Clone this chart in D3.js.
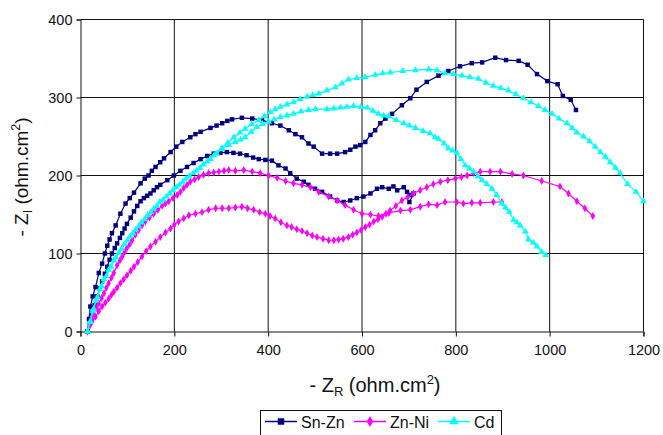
<!DOCTYPE html>
<html><head><meta charset="utf-8">
<script src="https://cdn.jsdelivr.net/npm/d3@7"></script>
<style>body{margin:0;background:#fff}svg{display:block;font-family:"Liberation Sans",Arial,sans-serif}</style>
</head><body><svg id="c" width="663" height="435"></svg>
<script>
const xTicks=[0,200,400,600,800,1000,1200];
const yTicks=[0,100,200,300,400];
const seriesNames=["Sn-Zn","Zn-Ni","Cd"];
const seriesColors=["#000080","#FF00FF","#00FFFF"];

const snZn1=[[15,0],[18,16],[21,32],[26,45],[32,57],[39,75],[46,87],[52,100],[57,110],[62,118],[67,126],[75,136],[85,151],[96,164],[105,171],[114,178],[128,190],[137,196],[145,200],[152,206],[160,211],[170,217],[178,222],[192,230],[204,237],[217,243],[234,249],[245,253],[256,256],[277,261],[290,264],[302,267],[313,270],[323,272],[344,274],[366,273],[387,271],[408,267],[426,264],[444,258],[458,253],[472,249],[486,241],[497,237],[515,228],[532,228],[547,228],[564,230],[575,233],[586,237],[596,239],[607,243],[618,252],[628,258],[639,267],[650,273],[664,279],[685,290],[703,299],[716,310],[738,320],[763,328],[784,334],[809,340],[834,344],[856,345],[884,351],[907,348],[934,347],[953,342],[973,330],[995,321],[1017,317],[1028,302],[1045,297],[1056,284]];
const snZn2=[[15,0],[20,12],[25,23],[30,34],[36,45],[41,55],[46,64],[52,74],[57,83],[62,92],[67,100],[73,107],[78,113],[84,120],[89,126],[94,132],[99,138],[107,146],[114,154],[121,161],[128,167],[135,171],[142,174],[149,177],[156,181],[163,185],[170,188],[185,194],[199,200],[213,206],[227,211],[241,216],[256,221],[270,225],[284,228],[298,229],[312,230],[326,229],[340,228],[354,226],[368,223],[380,221],[394,220],[408,219],[422,213],[437,209],[447,203],[461,196],[476,192],[486,188],[500,183],[515,179],[532,173],[547,168],[561,166],[575,168],[589,171],[603,173],[618,177],[632,183],[643,185],[657,183],[667,186],[675,181],[689,185],[696,179],[703,175],[710,177],[701,166]];
const znNi1=[[15,0],[20,9],[24,16],[28,23],[34,30],[39,36],[45,43],[50,49],[55,56],[60,62],[66,69],[71,75],[78,85],[84,91],[89,96],[94,102],[99,107],[105,112],[110,117],[117,124],[124,130],[131,136],[138,141],[147,146],[156,151],[165,156],[174,161],[181,164],[188,167],[197,171],[206,175],[213,179],[220,184],[227,188],[234,192],[243,195],[252,198],[262,201],[273,203],[284,204],[295,205],[306,206],[316,207],[330,206],[348,207],[366,205],[383,203],[401,200],[419,197],[437,193],[454,190],[472,188],[490,185],[508,179],[529,173],[547,168],[564,162],[582,156],[600,151],[618,150],[635,148],[657,152],[682,155],[703,156],[724,160],[742,163],[760,162],[777,166],[802,166],[816,164],[834,165],[852,165],[880,166],[898,166]];
const znNi2=[[15,0],[20,8],[25,13],[32,19],[39,26],[46,32],[53,37],[60,42],[66,47],[71,51],[78,56],[85,62],[92,67],[99,72],[107,78],[114,83],[122,89],[131,96],[140,103],[149,109],[160,115],[170,121],[181,127],[192,132],[200,137],[209,141],[220,145],[231,149],[245,151],[259,153],[273,156],[288,158],[302,158],[316,158],[330,159],[344,160],[356,158],[369,156],[382,153],[394,151],[404,148],[415,145],[427,140],[440,136],[450,134],[461,131],[472,129],[483,126],[494,123],[504,121],[517,119],[529,117],[540,117],[550,118],[560,119],[571,121],[580,124],[589,127],[598,130],[607,134],[616,137],[625,141],[634,144],[643,147],[651,151],[660,155],[672,161],[685,168],[697,172],[710,177],[724,181],[738,185],[752,189],[767,192],[783,194],[799,196],[812,198],[824,200],[838,203],[852,205],[873,205],[895,205],[920,202],[944,200],[983,193],[1022,186],[1040,177],[1058,167],[1075,158],[1092,148]];
const cd1=[[15,0],[20,12],[26,26],[33,40],[41,54],[50,67],[60,79],[71,91],[82,101],[94,112],[106,122],[118,131],[130,140],[143,149],[156,157],[169,166],[183,173],[197,181],[211,188],[225,196],[240,203],[255,210],[270,218],[285,226],[300,234],[314,242],[327,249],[340,255],[351,260],[365,266],[380,271],[392,276],[405,281],[415,285],[426,288],[440,291],[454,294],[468,298],[483,301],[495,303],[508,305],[525,309],[543,313],[557,318],[571,323],[589,325],[607,326],[628,329],[644,331],[660,332],[687,334],[714,335],[742,336],[760,335],[777,331],[795,330],[813,328],[830,326],[848,324],[864,319],[880,315],[896,312],[912,309],[928,304],[944,299],[960,294],[976,289],[990,284],[1005,279],[1020,273],[1037,267],[1048,261],[1058,255],[1072,250],[1085,244],[1097,237],[1108,230],[1119,224],[1129,217],[1140,210],[1150,203],[1166,189],[1184,179],[1200,167]];
const cd2=[[15,0],[21,13],[28,29],[36,44],[45,58],[55,71],[65,83],[76,95],[88,106],[100,117],[112,126],[124,135],[137,144],[150,153],[163,161],[176,169],[190,177],[204,185],[218,192],[232,199],[247,206],[262,214],[277,221],[290,228],[302,235],[316,239],[330,243],[341,246],[351,249],[364,256],[376,262],[388,266],[401,269],[413,272],[426,275],[440,277],[454,279],[470,282],[486,284],[501,285],[525,285],[540,286],[554,287],[568,288],[582,289],[597,288],[611,287],[623,283],[635,279],[646,277],[657,276],[673,271],[689,267],[701,264],[714,261],[730,257],[745,254],[756,249],[763,247],[775,241],[784,235],[793,232],[802,229],[811,221],[820,213],[829,209],[838,205],[847,199],[856,194],[866,189],[877,183],[887,175],[898,164],[906,159],[914,153],[923,143],[930,140],[937,136],[948,128],[955,118],[965,114],[973,109],[983,102],[992,98]];

const curves=[
  {s:0,data:snZn1},{s:0,data:snZn2},
  {s:1,data:znNi1},{s:1,data:znNi2},
  {s:2,data:cd1},{s:2,data:cd2}
];

const svg=d3.select("#c");
const x=d3.scaleLinear().domain([0,1200]).range([80.5,643.5]);
const y=d3.scaleLinear().domain([0,400]).range([331.5,19.5]);
const symTypes=[d3.symbolSquare,d3.symbolDiamond,d3.symbolTriangle];
const symSizes=[20,18,20];
const legSizes=[42,34,42];

// grid
const g=svg.append("g");
g.selectAll(".gx").data(xTicks.slice(1)).enter().append("line")
  .attr("x1",d=>x(d)).attr("x2",d=>x(d)).attr("y1",y(0)).attr("y2",y(400))
  .attr("stroke","#111").attr("stroke-width",1);
g.selectAll(".gy").data(yTicks.slice(1)).enter().append("line")
  .attr("x1",x(0)).attr("x2",x(1200)).attr("y1",d=>y(d)).attr("y2",d=>y(d))
  .attr("stroke","#111").attr("stroke-width",1);

// axes
const xa=svg.append("g").attr("transform",`translate(0,${y(0)})`)
  .call(d3.axisBottom(x).tickValues(xTicks).tickSize(5).tickPadding(8).tickFormat(d3.format("d")));
const ya=svg.append("g").attr("transform",`translate(${x(0)},0)`)
  .call(d3.axisLeft(y).tickValues(yTicks).tickSize(4).tickPadding(4).tickFormat(d3.format("d")));
[xa,ya].forEach(a=>{
  a.select(".domain").attr("stroke","#111");
  a.selectAll(".tick line").attr("stroke","#111");
  a.selectAll("text").attr("font-size","14.5px").attr("fill","#111").attr("font-family","'Liberation Sans',Arial,sans-serif");
});

// series
const line=d3.line().x(d=>x(d[0])).y(d=>y(d[1]));
curves.forEach(c=>{
  const col=seriesColors[c.s];
  svg.append("path").datum(c.data).attr("d",line).attr("fill","none").attr("stroke",col).attr("stroke-width",1.2);
  svg.append("g").selectAll("path").data(c.data).enter().append("path")
    .attr("d",d3.symbol().type(symTypes[c.s]).size(symSizes[c.s]))
    .attr("transform",d=>`translate(${x(d[0])},${y(d[1])})`)
    .attr("fill",col);
});

// axis titles
const xt=svg.append("text").attr("x",375).attr("y",392).attr("text-anchor","middle")
  .attr("font-size","20px").attr("fill","#111");
xt.append("tspan").text("- Z");
xt.append("tspan").text("R").attr("font-size","13px").attr("dy","4");
xt.append("tspan").text(" (ohm.cm").attr("dy","-4");
xt.append("tspan").text("2").attr("font-size","13px").attr("dy","-8");
xt.append("tspan").text(")").attr("dy","8");

const yt=svg.append("text").attr("transform","translate(27.5,177) rotate(-90)").attr("text-anchor","middle")
  .attr("font-size","19px").attr("fill","#111");
yt.append("tspan").text("- Z");
yt.append("tspan").text("I").attr("font-size","12.5px").attr("dy","4");
yt.append("tspan").text(" (ohm.cm").attr("dy","-4");
yt.append("tspan").text("2").attr("font-size","12.5px").attr("dy","-8");
yt.append("tspan").text(")").attr("dy","8");

// legend
const lg=svg.append("g");
lg.append("rect").attr("x",260.5).attr("y",410.5).attr("width",241).attr("height",30)
  .attr("fill","#fff").attr("stroke","#111").attr("stroke-width",1);
const legX=[265,354,438];
seriesNames.forEach((n,i)=>{
  const lx=legX[i];
  lg.append("line").attr("x1",lx).attr("x2",lx+32).attr("y1",421.5).attr("y2",421.5)
    .attr("stroke",seriesColors[i]).attr("stroke-width",1.5);
  lg.append("path").attr("d",d3.symbol().type(symTypes[i]).size(legSizes[i])())
    .attr("transform",`translate(${lx+16},421.5)`).attr("fill",seriesColors[i]);
  lg.append("text").attr("x",lx+36).attr("y",427.5).attr("font-size","16px").attr("fill","#111").text(n);
});
</script></body></html>
